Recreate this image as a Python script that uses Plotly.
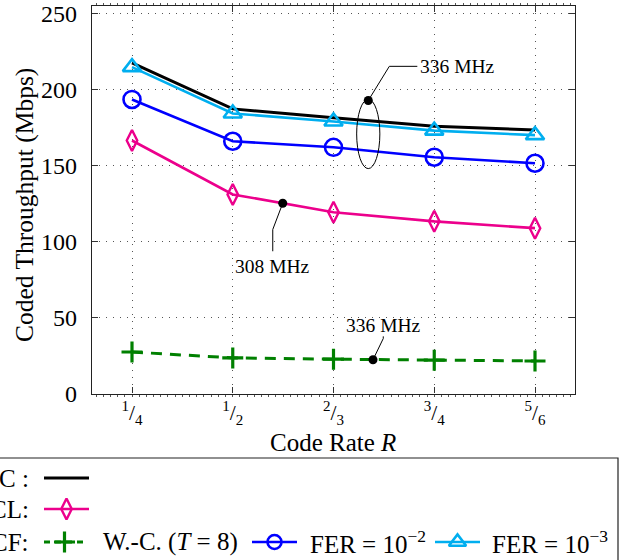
import plotly.graph_objects as go

# ---------------- data ----------------
rates = ["1/4", "1/2", "2/3", "3/4", "5/6"]
hc_vals = [217.6, 187.3, 181.4, 175.8, 173.4]        # black, "C"
cl_vals = [166.5, 131.0, 119.3, 113.3, 108.8]        # pink, "CL"
wc_vals = [27.3, 23.4, 22.6, 21.9, 21.4]             # green dashed, W.-C. (T=8)
fer2_vals = [193.5, 166.0, 162.0, 155.5, 151.5]      # blue, FER=1e-2
fer3_vals = [214.8, 184.3, 179.0, 173.0, 170.0]      # cyan, FER=1e-3
y_ticks = [0, 50, 100, 150, 200, 250]

# annotation anchors (data coordinates)
ann_top_dot = (2.345, 192.8)
ann_top_ellipse = (2.23, 148.0, 2.46, 193.6)
ann_top_leader_x = [2.345, 2.554, 2.832]
ann_top_leader_y = [192.8, 215.3, 215.3]
ann_mid_dot = (1.496, 125.2)
ann_mid_leader_x = [1.496, 1.397, 1.397]
ann_mid_leader_y = [125.2, 107.9, 93.6]
ann_bot_dot = (2.392, 22.2)
ann_bot_leader_x = [2.392, 2.494, 2.494]
ann_bot_leader_y = [22.2, 36.2, 37.6]

xs = list(range(len(rates)))
tick_text = [f"<sup>{r.split('/')[0]}</sup>/<sub>{r.split('/')[1]}</sub>" for r in rates]

FONT = "Liberation Serif, Times New Roman, serif"
BLACK = "#000000"
PINK = "#EC008C"
GREEN = "#008000"
BLUE = "#0000FF"
CYAN = "#00AEEF"

W, H = 629, 560
PX_L, PX_R, PX_T, PX_B = 92, 575, 6, 393.5

fig = go.Figure()

# ---------------- main series ----------------
fig.add_trace(go.Scatter(x=xs, y=hc_vals, mode="lines", line=dict(color=BLACK, width=3),
                         showlegend=False, xaxis="x", yaxis="y"))
fig.add_trace(go.Scatter(x=xs, y=cl_vals, mode="lines+markers", line=dict(color=PINK, width=2.6),
                         marker=dict(symbol="diamond-tall-open", size=15, color=PINK,
                                     line=dict(width=2.4, color=PINK)), showlegend=False))
fig.add_trace(go.Scatter(x=xs, y=wc_vals, mode="lines+markers",
                         line=dict(color=GREEN, width=3, dash="11px,8px"),
                         marker=dict(symbol="cross-thin-open", size=15, color=GREEN,
                                     line=dict(width=3.2, color=GREEN)), showlegend=False))
fig.add_trace(go.Scatter(x=xs, y=fer2_vals, mode="lines+markers", line=dict(color=BLUE, width=2.6),
                         marker=dict(symbol="circle-open", size=17, color=BLUE,
                                     line=dict(width=2.6, color=BLUE)), showlegend=False))
fig.add_trace(go.Scatter(x=xs, y=fer3_vals, mode="lines+markers", line=dict(color=CYAN, width=2.6),
                         marker=dict(symbol="triangle-up-open", size=16, color=CYAN,
                                     line=dict(width=2.6, color=CYAN)), showlegend=False))

# ---------------- annotation leaders and dots ----------------
for lx, ly in [(ann_top_leader_x, ann_top_leader_y), (ann_mid_leader_x, ann_mid_leader_y),
               (ann_bot_leader_x, ann_bot_leader_y)]:
    fig.add_trace(go.Scatter(x=lx, y=ly, mode="lines", line=dict(color=BLACK, width=1),
                             showlegend=False, hoverinfo="skip"))
dots = [ann_top_dot, ann_mid_dot, ann_bot_dot]
fig.add_trace(go.Scatter(x=[d[0] for d in dots], y=[d[1] for d in dots], mode="markers",
                         marker=dict(color=BLACK, size=9), showlegend=False, hoverinfo="skip"))

fig.add_shape(type="circle", xref="x", yref="y",
              x0=ann_top_ellipse[0], y0=ann_top_ellipse[1], x1=ann_top_ellipse[2], y1=ann_top_ellipse[3],
              line=dict(color=BLACK, width=1))

ann_font = dict(family=FONT, size=19.5, color=BLACK)
fig.add_annotation(x=ann_top_leader_x[-1], y=ann_top_leader_y[-1], text="336 MHz", showarrow=False,
                   xanchor="left", yanchor="middle", font=ann_font, xshift=1)
fig.add_annotation(x=ann_mid_leader_x[-1], y=ann_mid_leader_y[-1], text="308 MHz", showarrow=False,
                   xanchor="center", yanchor="top", font=ann_font, yshift=-3)
fig.add_annotation(x=ann_bot_leader_x[-1], y=ann_bot_leader_y[-1], text="336 MHz", showarrow=False,
                   xanchor="center", yanchor="bottom", font=ann_font, yshift=-2)

# ---------------- legend (pixel overlay axes x2/y2) ----------------
leg_rows_y = [478, 509, 542]
for txt, yy in zip(["C :", "CL:", "CF:"], leg_rows_y):
    fig.add_annotation(x=31, y=yy, xref="x2", yref="y2", text=txt, showarrow=False,
                       xanchor="right", yanchor="middle",
                       font=dict(family=FONT, size=25, color=BLACK))

def leg_sample(x0, x1, xm, yy, color, width, dash=None, symbol=None, size=0, lw=0):
    fig.add_trace(go.Scatter(x=[x0, x1], y=[yy, yy], mode="lines", xaxis="x2", yaxis="y2",
                             line=dict(color=color, width=width, dash=dash),
                             showlegend=False, hoverinfo="skip"))
    if symbol:
        fig.add_trace(go.Scatter(x=[xm], y=[yy], mode="markers", xaxis="x2", yaxis="y2",
                                 marker=dict(symbol=symbol, size=size, color=color,
                                             line=dict(width=lw, color=color)),
                                 showlegend=False, hoverinfo="skip"))

leg_sample(44, 89, 66.5, leg_rows_y[0], BLACK, 3)
leg_sample(44, 89, 66.5, leg_rows_y[1], PINK, 2.6, symbol="diamond-tall-open", size=15, lw=2.4)
leg_sample(44, 83, 64.5, leg_rows_y[2], GREEN, 3, dash="6px,5px", symbol="cross-thin-open", size=15, lw=3.2)
leg_sample(252, 297, 274.5, leg_rows_y[2], BLUE, 2.6, symbol="circle-open", size=14, lw=2.6)
leg_sample(435, 480, 457.5, leg_rows_y[2], CYAN, 2.6, symbol="triangle-up-open", size=15, lw=2.6)

leg_font = dict(family=FONT, size=25, color=BLACK)
for txt, xx in [("W.-C. (<i>T</i> = 8)", 101), ("FER = 10<sup>−2</sup>", 308), ("FER = 10<sup>−3</sup>", 490)]:
    fig.add_annotation(x=xx, y=leg_rows_y[2], xref="x2", yref="y2", text=txt, showarrow=False,
                       xanchor="left", yanchor="middle", font=leg_font)

fig.add_shape(type="rect", xref="x2", yref="y2", x0=-10, x1=618, y0=458, y1=575,
              line=dict(color="#222222", width=1.2), fillcolor="rgba(0,0,0,0)")

fig.add_annotation(x=333, y=442, xref="x2", yref="y2", text="Code Rate <i>R</i>", showarrow=False,
                   xanchor="center", yanchor="middle", font=dict(family=FONT, size=25, color=BLACK))
fig.add_annotation(x=24, y=205, xref="x2", yref="y2", text="Coded Throughput (Mbps)", showarrow=False,
                   textangle=-90, xanchor="center", yanchor="middle",
                   font=dict(family=FONT, size=25.5, color=BLACK))

# ---------------- layout ----------------
grid = dict(showgrid=True, gridcolor="#555555", gridwidth=1, griddash="1px,6px")
fig.update_layout(
    width=W, height=H, autosize=False,
    margin=dict(l=0, r=0, t=0, b=0, pad=0, autoexpand=False),
    paper_bgcolor="white", plot_bgcolor="rgba(0,0,0,0)",
    font=dict(family=FONT, size=23, color=BLACK),
    xaxis=dict(domain=[PX_L / W, PX_R / W], range=[-0.397, 4.397], tickmode="array",
               tickvals=xs, ticktext=tick_text, ticks="inside", ticklen=6, tickcolor="#333",
               showline=True, linecolor="#222", linewidth=1.2, mirror="ticks", zeroline=False,
               tickfont=dict(family=FONT, size=21.5), ticklabelstandoff=0, automargin=False,
               minor=dict(dtick=1 / 14, tick0=0, ticks="outside", ticklen=2, tickcolor="#555",
                          showgrid=False),
               anchor="y", **grid),
    yaxis=dict(domain=[1 - PX_B / H, 1 - PX_T / H], range=[0, 255], tickvals=y_ticks,
               ticks="inside", ticklen=6, tickcolor="#333",
               showline=True, linecolor="#222", linewidth=1.2, mirror="ticks", zeroline=False,
               tickfont=dict(family=FONT, size=24), ticklabelstandoff=9, automargin=False,
               anchor="x", **grid),
    xaxis2=dict(domain=[0, 1], range=[0, W], visible=False, anchor="y2", fixedrange=True,
                automargin=False),
    yaxis2=dict(domain=[0, 1], range=[H, 0], visible=False, anchor="x2", fixedrange=True,
                automargin=False),
)

fig.write_html("out.html", config={"displayModeBar": False, "responsive": False},
               post_script="document.body.style.margin='0';document.body.style.overflow='hidden';")
